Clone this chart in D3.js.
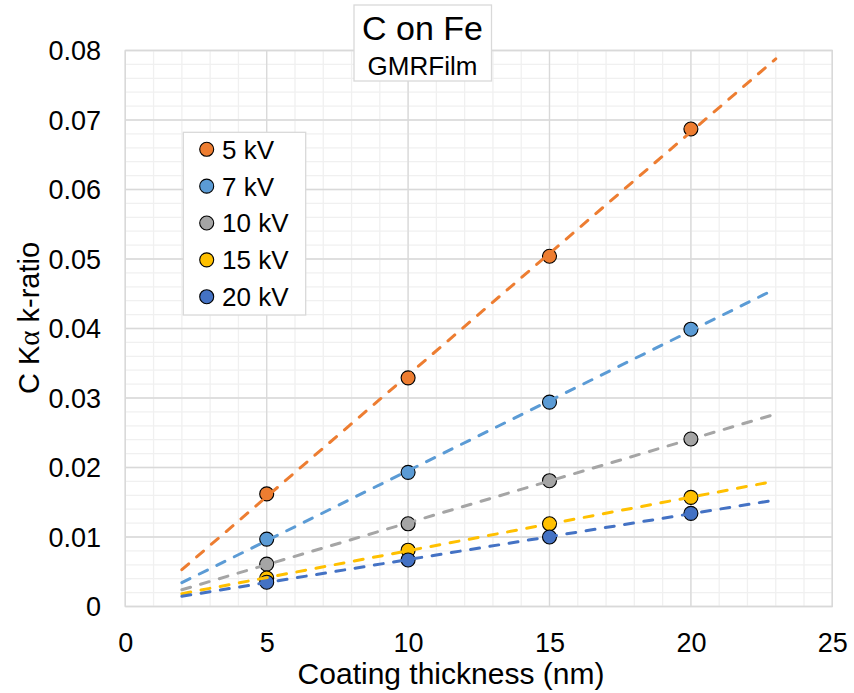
<!DOCTYPE html>
<html>
<head>
<meta charset="utf-8">
<script src="https://cdn.jsdelivr.net/npm/d3@7"></script>
<style>
  html, body { margin: 0; padding: 0; background: #fff; }
  svg { display: block; font-family: "Liberation Sans", Arial, sans-serif; }
</style>
</head>
<body>
<svg id="chart" width="854" height="693"></svg>
<script>
// ---- Data ----
const thickness = [5, 10, 15, 20];
const seriesNames = ["5 kV", "7 kV", "10 kV", "15 kV", "20 kV"];
const seriesColors = ["#ED7D31", "#5B9BD5", "#A5A5A5", "#FFC000", "#4472C4"];
const kv5  = [0.0162, 0.0329, 0.0504, 0.0687];
const kv7  = [0.0097, 0.0193, 0.0294, 0.0399];
const kv10 = [0.0061, 0.0119, 0.0181, 0.0241];
const kv15 = [0.0041, 0.0081, 0.0119, 0.0157];
const kv20 = [0.0035, 0.0067, 0.0100, 0.0134];
const seriesValues = [kv5, kv7, kv10, kv15, kv20];
const trendRange = [2, 23];
const xTicks = [0, 5, 10, 15, 20, 25];
const yTicks = [0, 0.01, 0.02, 0.03, 0.04, 0.05, 0.06, 0.07, 0.08];
const yTickLabels = ["0", "0.01", "0.02", "0.03", "0.04", "0.05", "0.06", "0.07", "0.08"];

// ---- Layout ----
const svg = d3.select("#chart");
const plot = { left: 125.3, right: 832.3, top: 50.5, bottom: 606.5 };
const x = d3.scaleLinear().domain([0, 25]).range([plot.left, plot.right]);
const y = d3.scaleLinear().domain([0, 0.08]).range([plot.bottom, plot.top]);

svg.append("rect").attr("width", 854).attr("height", 693).attr("fill", "#fff");

// minor grid
const g = svg.append("g");
g.selectAll(".xminor").data(d3.range(0, 25.001, 1)).join("line")
  .attr("x1", d => x(d)).attr("x2", d => x(d))
  .attr("y1", plot.top).attr("y2", plot.bottom)
  .attr("stroke", "#f0f0f0").attr("stroke-width", 1.3);
g.selectAll(".yminor").data(d3.range(0, 0.0801, 0.002)).join("line")
  .attr("y1", d => y(d)).attr("y2", d => y(d))
  .attr("x1", plot.left).attr("x2", plot.right)
  .attr("stroke", "#f0f0f0").attr("stroke-width", 1.3);
// major grid
g.selectAll(".xmajor").data(xTicks).join("line")
  .attr("x1", d => x(d)).attr("x2", d => x(d))
  .attr("y1", plot.top).attr("y2", plot.bottom)
  .attr("stroke", "#d9d9d9").attr("stroke-width", 1.3);
g.selectAll(".ymajor").data(yTicks).join("line")
  .attr("y1", d => y(d)).attr("y2", d => y(d))
  .attr("x1", plot.left).attr("x2", plot.right)
  .attr("stroke", "#d9d9d9").attr("stroke-width", 1.3);
svg.append("rect")
  .attr("x", plot.left).attr("y", plot.top)
  .attr("width", plot.right - plot.left).attr("height", plot.bottom - plot.top)
  .attr("fill", "none").attr("stroke", "#d9d9d9").attr("stroke-width", 1.3);

// axes (labels only)
const xAxis = d3.axisBottom(x).tickValues(xTicks).tickSize(0).tickPadding(0);
svg.append("g").attr("transform", `translate(0,${plot.bottom})`).call(xAxis)
  .call(s => s.select(".domain").remove())
  .call(s => s.selectAll("text").attr("font-size", 27).attr("fill", "#000")
    .attr("font-family", "Liberation Sans, Arial, sans-serif")
    .attr("dy", null).attr("y", 45));
const yAxis = d3.axisLeft(y).tickValues(yTicks).tickFormat((d, i) => yTickLabels[i]).tickSize(0).tickPadding(0);
svg.append("g").attr("transform", `translate(101,0)`).call(yAxis)
  .call(s => s.select(".domain").remove())
  .call(s => s.selectAll("text").attr("font-size", 27).attr("fill", "#000")
    .attr("font-family", "Liberation Sans, Arial, sans-serif")
    .attr("x", 0).attr("dy", "0.35em"));

// axis titles
svg.append("text").attr("x", 451).attr("y", 684).attr("text-anchor", "middle")
  .attr("font-size", 30).attr("fill", "#000").text("Coating thickness (nm)");
const yt = svg.append("text").attr("transform", "translate(39,318) rotate(-90)")
  .attr("text-anchor", "middle").attr("font-size", 29).attr("fill", "#000");
yt.append("tspan").text("C K");
yt.append("tspan").attr("font-family", "Liberation Serif, Times New Roman, serif").text("α");
yt.append("tspan").text(" k-ratio");

// markers
seriesValues.forEach((vals, si) => {
  svg.append("g").selectAll("circle").data(vals).join("circle")
    .attr("cx", (d, i) => x(thickness[i])).attr("cy", d => y(d))
    .attr("r", 7).attr("fill", seriesColors[si])
    .attr("stroke", "#000").attr("stroke-width", 1.1);
});

// linear trend lines (least squares fit of each series)
seriesValues.forEach((vals, si) => {
  const mx = d3.mean(thickness), my = d3.mean(vals);
  const sxy = d3.sum(thickness, (t, i) => (t - mx) * (vals[i] - my));
  const sxx = d3.sum(thickness, t => (t - mx) * (t - mx));
  const slope = sxy / sxx, icpt = my - slope * mx;
  const pts = trendRange.map(t => [t, icpt + slope * t]);
  svg.append("path").datum(pts)
    .attr("d", d3.line().x(d => x(d[0])).y(d => y(d[1])))
    .attr("fill", "none").attr("stroke", seriesColors[si])
    .attr("stroke-width", 3).attr("stroke-linecap", "round")
    .attr("stroke-dasharray", "9,10.5");
});

// title box
svg.append("rect").attr("x", 354).attr("y", 5).attr("width", 137.5).attr("height", 76)
  .attr("fill", "#fff").attr("stroke", "#d9d9d9").attr("stroke-width", 1.3);
svg.append("text").attr("x", 422.5).attr("y", 40).attr("text-anchor", "middle")
  .attr("font-size", 34).attr("fill", "#000").text("C on Fe");
svg.append("text").attr("x", 422.5).attr("y", 75).attr("text-anchor", "middle")
  .attr("font-size", 26).attr("fill", "#000").text("GMRFilm");

// legend
const lg = svg.append("g");
lg.append("rect").attr("x", 183.3).attr("y", 132.3).attr("width", 122.4).attr("height", 182.7)
  .attr("fill", "#fff").attr("stroke", "#d9d9d9").attr("stroke-width", 1.3);
const ly = d3.scalePoint().domain(seriesNames).range([149.3, 296.7]);
seriesNames.forEach((n, i) => {
  lg.append("circle").attr("cx", 206.7).attr("cy", ly(n)).attr("r", 7)
    .attr("fill", seriesColors[i]).attr("stroke", "#000").attr("stroke-width", 1.1);
  lg.append("text").attr("x", 222).attr("y", ly(n)).attr("dy", "0.36em")
    .attr("font-size", 26).attr("fill", "#000").text(n);
});
</script>
</body>
</html>
